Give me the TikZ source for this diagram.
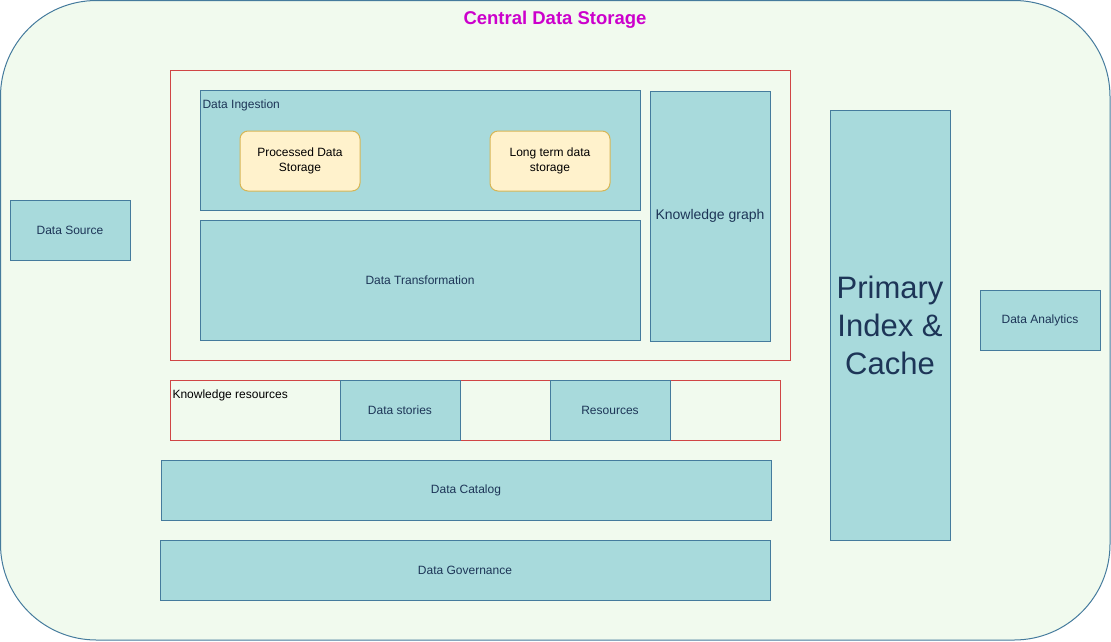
\documentclass[tikz,border=0pt]{standalone}
\usepackage{fontspec}
\setmainfont{Liberation Sans}
\definecolor{bgfill}{HTML}{F1FAEE}
\definecolor{bdblue}{HTML}{457B9D}
\definecolor{boxfill}{HTML}{A8DADC}
\definecolor{boxtext}{HTML}{1D3557}
\definecolor{redline}{HTML}{D04545}
\definecolor{ylwfill}{HTML}{FFF2CC}
\definecolor{ylwline}{HTML}{D6B656}
\definecolor{titlemag}{HTML}{CC00CC}

\begin{document}
\begin{tikzpicture}
            [x=1pt, y=-1pt, line width=1pt,
             blk/.style={shape=rectangle, draw=bdblue, fill=boxfill, text=boxtext, inner sep=0pt, font=\fontsize{12}{15}\selectfont, align=center},
             store/.style={shape=rectangle, rounded corners=8pt, draw=ylwline, fill=ylwfill, text=black, inner sep=0pt, minimum width=120pt, minimum height=60pt, font=\fontsize{12}{15}\selectfont, align=center},
             grp/.style={draw=redline}]
            \useasboundingbox (0,0) rectangle (1111,641);
            \draw[draw=bdblue, fill=bgfill, rounded corners=96pt] (0.5,0.5) rectangle (1110,640);
            \node[text=titlemag, font=\fontsize{18.5}{22}\bfseries] (title) at (555,19.5) {Central Data Storage};

            \draw[grp] (170,70) rectangle (790,360);
            \node[blk, minimum width=440pt, minimum height=120pt] (ingest) at (420,150) {};
            \node[anchor=west, text=boxtext, font=\fontsize{12}{15}\selectfont, inner sep=0pt] (ingestlbl) at (202,105) {Data Ingestion};
            \node[store] (proc) at (300,161) {Processed Data\\Storage};
            \node[store] (longterm) at (550,161) {Long term data\\storage};
            \node[blk, minimum width=440pt, minimum height=120pt] (transf) at (420,280) {Data Transformation};
            \node[blk, minimum width=120pt, minimum height=250pt, font=\fontsize{14}{17}\selectfont] (kgraph) at (710,216) {Knowledge graph};

            \node[blk, minimum width=120pt, minimum height=60pt] (source) at (70,230) {Data Source};
            \node[blk, minimum width=120pt, minimum height=430pt, font=\fontsize{31}{38}\selectfont] (primary) at (890,325) {Primary\\Index \&\\Cache};
            \node[blk, minimum width=120pt, minimum height=60pt] (analytics) at (1040,320) {Data Analytics};

            \draw[grp] (170,380) rectangle (780,440);
            \node[anchor=west, text=black, font=\fontsize{12}{15}\selectfont, inner sep=0pt] (kreslbl) at (172,395) {Knowledge resources};
            \node[blk, minimum width=120pt, minimum height=60pt] (stories) at (400,410) {Data stories};
            \node[blk, minimum width=120pt, minimum height=60pt] (resources) at (610,410) {Resources};

            \node[blk, minimum width=610pt, minimum height=60pt] (catalog) at (466,490) {Data Catalog};
            \node[blk, minimum width=610pt, minimum height=60pt] (govern) at (465,570) {Data Governance};
        \end{tikzpicture}
\end{document}
